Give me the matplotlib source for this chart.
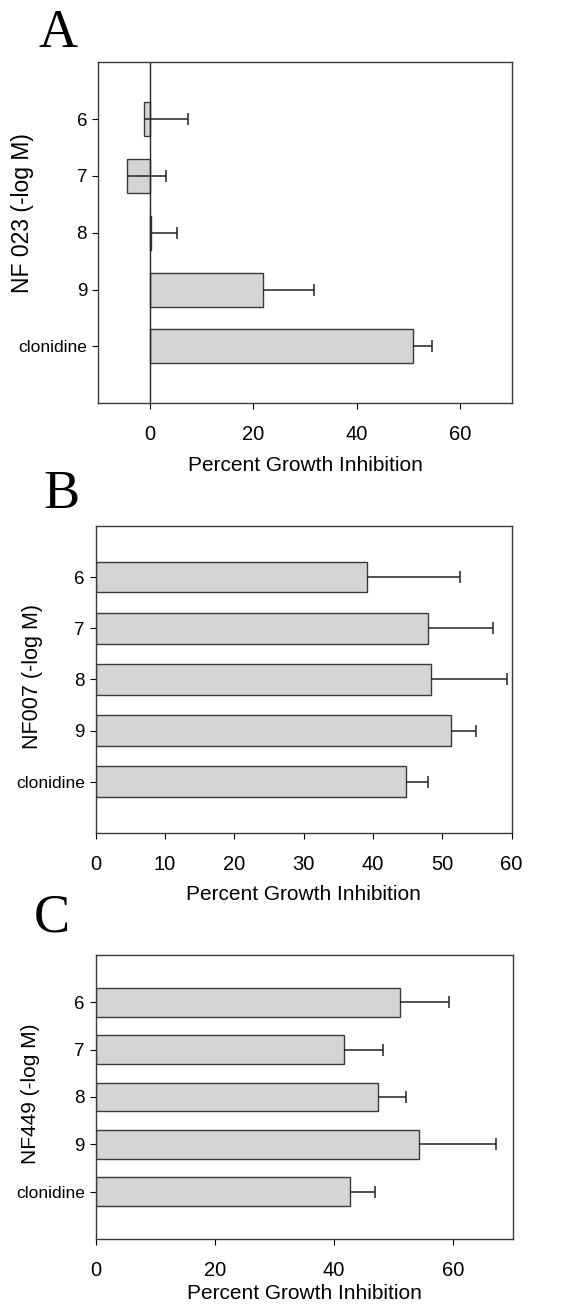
import matplotlib
matplotlib.use("Agg")
import matplotlib.pyplot as plt
import numpy as np

plt.rcParams['font.family'] = ['Liberation Sans', 'DejaVu Sans']

labels = ['6', '7', '8', '9', 'clonidine']

# panel A: NF 023
a_vals = [-1.2, -4.4, 0.3, 21.8, 50.9]
a_err = [8.5, 7.5, 4.9, 9.9, 3.7]

# panel B: NF007
b_vals = [39.1, 48.0, 48.3, 51.3, 44.7]
b_err = [13.5, 9.3, 11.1, 3.6, 3.3]

# panel C: NF449
c_vals = [51.0, 41.6, 47.3, 54.2, 42.6]
c_err = [8.3, 6.6, 4.7, 13.0, 4.2]

fig = plt.figure(figsize=(5.84, 13.05), dpi=100)

panels = [
    ('A', a_vals, a_err, 'NF 023 (-log M)', (-10, 70), [0, 20, 40, 60],
     [0.168, 0.691, 0.709, 0.2613], (0.066, 0.9745), (-0.155, 0.557), 8, 16.5),
    ('B', b_vals, b_err, 'NF007 (-log M)', (0, 60), [0, 10, 20, 30, 40, 50, 60],
     [0.164, 0.3617, 0.712, 0.2353], (0.075, 0.6207), (-0.127, 0.508), 8, 15.5),
    ('C', c_vals, c_err, 'NF449 (-log M)', (0, 70), [0, 20, 40, 60],
     [0.164, 0.0506, 0.714, 0.2176], (0.058, 0.2966), (-0.134, 0.51), 3, 15),
]

for letter, vals, err, ylab, xlim, xticks, pos, lpos, ylpos, xpad, yfs in panels:
    ax = fig.add_axes(pos)
    y = np.arange(len(labels))
    vals = np.array(vals)
    err = np.array(err)
    ax.barh(y, vals, height=0.6, color='#d5d5d5', edgecolor='#3a3a3a', linewidth=1.0)
    # one-sided error bars, cap only at the outer end
    ax.hlines(y, vals, vals + err, color='#222222', linewidth=1.1)
    ax.plot(vals + err, y, linestyle='none', marker='|', markersize=8,
            markeredgewidth=1.1, color='#222222')
    if xlim[0] < 0:
        ax.axvline(0, color='#222222', linewidth=1.0)
    ax.set_xlim(*xlim)
    ax.set_ylim(5, -1)
    ax.set_yticks(y)
    ax.set_yticklabels(labels)
    ax.set_xticks(xticks)
    ax.tick_params(axis='x', labelsize=14.5, direction='out', length=4, pad=12)
    ax.tick_params(axis='y', labelsize=13.5, direction='out', length=4, pad=4)
    for lbl in ax.get_yticklabels():
        if lbl.get_text() == 'clonidine':
            lbl.set_fontsize(12.5)
    for s in ax.spines.values():
        s.set_color('#3a3a3a')
        s.set_linewidth(1.0)
    ax.set_xlabel('Percent Growth Inhibition', fontsize=15, labelpad=xpad)
    ax.set_ylabel(ylab, fontsize=yfs)
    ax.yaxis.set_label_coords(ylpos[0], ylpos[1])
    fig.text(lpos[0], lpos[1], letter, family='Liberation Serif', fontsize=39,
             va='center', ha='left')

fig.savefig('out.png', dpi=100)
